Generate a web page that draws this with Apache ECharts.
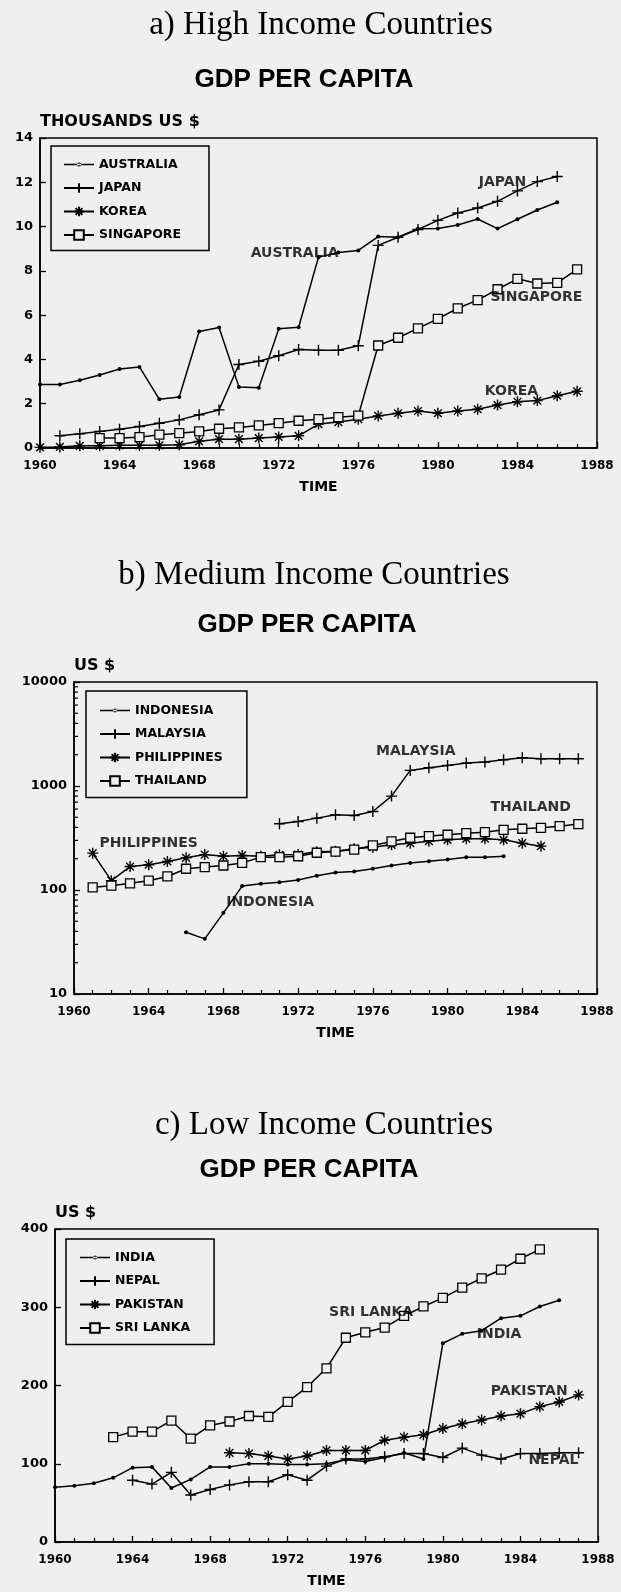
<!DOCTYPE html>
<html><head><meta charset="utf-8">
<script src="https://cdn.jsdelivr.net/npm/echarts@6/dist/echarts.min.js"></script>
<style>html,body{margin:0;padding:0;background:#efefef}#c{width:621px;height:1592px}</style>
</head><body><div id="c"></div><script>
// ---------- DATA ----------
const xTicks = [1960, 1964, 1968, 1972, 1976, 1980, 1984, 1988];
const yTicksA = [0, 2, 4, 6, 8, 10, 12, 14];
const yTicksB = [10, 100, 1000, 10000];
const yTicksC = [0, 100, 200, 300, 400];
const logMinorTicksB = [20,30,40,50,60,70,80,90,200,300,400,500,600,700,800,900,2000,3000,4000,5000,6000,7000,8000,9000];

// a) High income (thousands US $), each series: first year + yearly values
const australiaStart = 1960;
const australia = [2.87,2.87,3.06,3.3,3.57,3.66,2.2,2.3,5.26,5.44,2.76,2.72,5.38,5.45,8.62,8.83,8.92,9.55,9.52,9.9,9.91,10.07,10.34,9.91,10.33,10.75,11.1];
const japanStart = 1961;
const japan = [0.55,0.64,0.75,0.85,0.97,1.12,1.27,1.5,1.72,3.77,3.92,4.17,4.45,4.41,4.41,4.62,9.15,9.52,9.87,10.28,10.61,10.84,11.14,11.61,12.03,12.26];
const koreaStart = 1960;
const korea = [0.03,0.05,0.1,0.1,0.12,0.12,0.12,0.15,0.3,0.4,0.4,0.45,0.5,0.55,1.08,1.17,1.3,1.45,1.57,1.67,1.57,1.67,1.75,1.94,2.09,2.14,2.36,2.56];
const singaporeStart = 1963;
const singapore = [0.45,0.45,0.49,0.6,0.67,0.75,0.87,0.93,1.02,1.12,1.23,1.3,1.39,1.46,4.63,4.98,5.4,5.83,6.31,6.68,7.17,7.64,7.43,7.46,8.07];

// b) Medium income (US $, log scale)
const indonesiaStart = 1966;
const indonesia = [39.3,33.9,60.3,109,115,119,125,137,147,151,160,172,182,189,196,207,207,211];
const malaysiaStart = 1971;
const malaysia = [433,456,491,528,521,569,800,1413,1500,1578,1661,1698,1787,1870,1827,1827,1827];
const philippinesStart = 1961;
const philippines = [226,123,168,175,188,204,219,211,215,211,218,219,233,236,249,258,272,282,295,304,311,311,304,282,264];
const thailandStart = 1961;
const thailand = [106,110,116,123,135,160,166,172,182,207,207,211,228,234,245,268,293,318,330,340,352,360,379,388,396,411,430];

// c) Low income (US $)
const indiaStart = 1960;
const india = [70,72,75,82,95,96,69,80,96,96,100,100,99,99,100,105,103,108,114,106,254,266,270,286,289,301,309];
const nepalStart = 1964;
const nepal = [79,74,89,60,67,73,77,77,86,79,97,106,106,109,113,113,108,120,111,106,113,113,114,114];
const pakistanStart = 1969;
const pakistan = [114,113,110,106,110,117,117,117,130,134,137,145,151,156,161,164,173,179,188];
const sriLankaStart = 1963;
const sriLanka = [134,141,141,155,132,149,154,161,160,179,198,222,261,268,274,289,301,312,325,337,348,362,374];

// in-plot labels: [name, x(year), y(value)]
const labelsA = [['JAPAN',1983.25,12.0],['AUSTRALIA',1972.8,8.77],['SINGAPORE',1984.95,6.8],['KOREA',1983.7,2.57]];
const labelsB = [['MALAYSIA',1978.3,2168],['THAILAND',1984.45,627],['PHILIPPINES',1964.0,278],['INDONESIA',1970.5,76]];
const labelsC = [['SRI LANKA',1976.3,293.6],['INDIA',1982.9,265],['PAKISTAN',1984.45,192],['NEPAL',1985.7,104]];

// ---------- STYLE ----------
const SANS = "'DejaVu Sans', sans-serif";
const BG = '#efefef';
const SYM = {
  dot: {symbol:'circle', size:4, item:{color:'#000'}},
  plus: {symbol:'path://M5,0L5,10M0,5L10,5', size:11, item:{color:'#000', borderColor:'#000', borderWidth:1.4}},
  star: {symbol:'path://M5,0L5,10M0,5L10,5M1.5,1.5L8.5,8.5M1.5,8.5L8.5,1.5', size:11, item:{color:'#000', borderColor:'#000', borderWidth:1.4}},
  square: {symbol:'rect', size:9, item:{color:BG, borderColor:'#000', borderWidth:1.3}}
};
const DOT_LEGEND_ICON = 'path://M0,5.3H30V6.7H0Z M13,6A2,2 0 1,0 17,6A2,2 0 1,0 13,6Z';
const toPairs = (start, vals) => vals.map((v,i) => [start+i, v]);

function lineSeries(name, start, vals, sym, gi) {
  const s = SYM[sym];
  return {
    type:'line', name, xAxisIndex:gi, yAxisIndex:gi,
    data: toPairs(start, vals),
    symbol: s.symbol, symbolSize: s.size, showAllSymbol:true,
    lineStyle:{color:'#000', width:1.5},
    itemStyle: s.item,
    emphasis:{disabled:true}, animation:false, z:3
  };
}
function labelSeries(arr, gi) {
  return {
    type:'scatter', xAxisIndex:gi, yAxisIndex:gi, symbolSize:0, silent:true, z:5,
    itemStyle:{color:'#000'},
    data: arr.map(d => ({name:d[0], value:[d[1], d[2]]})),
    label:{show:true, position:[0,0], align:'center', verticalAlign:'middle', formatter:'{b}', color:'#000',
      textBorderWidth:0,
      fontFamily:SANS, fontWeight:'bold', fontSize:14}
  };
}

const grids = [
  {left:40, top:138, width:557, height:310},
  {left:74, top:682, width:523, height:312},
  {left:55, top:1229, width:543, height:313}
].map(g => Object.assign(g, {show:true, borderColor:'#000', borderWidth:1.5, backgroundColor:'transparent'}));

const plainNum = v => String(v);

function xAxis(gi) {
  return {
    type:'value', gridIndex:gi, min:xTicks[0], max:xTicks[xTicks.length-1], interval:4,
    name:'TIME', nameLocation:'middle', nameGap:32,
    nameTextStyle:{fontFamily:SANS, fontWeight:'bold', fontSize:14, color:'#000'},
    axisLine:{show:true, lineStyle:{color:'#000', width:1.5}},
    axisTick:{show:true, inside:true, length:6, lineStyle:{color:'#000', width:1.3}},
    minorTick:{show:true, splitNumber:4, length:4, lineStyle:{color:'#000', width:1.2}},
    splitLine:{show:false},
    axisLabel:{margin:12, formatter:plainNum, fontFamily:SANS, fontWeight:'bold', fontSize:12, color:'#000'}
  };
}
function yAxisBase(gi, name) {
  return {
    gridIndex:gi, name, nameLocation:'end', nameGap:8,
    nameTextStyle:{align:'left', fontFamily:SANS, fontWeight:'bold', fontSize:16, color:'#000'},
    axisLine:{show:true, lineStyle:{color:'#000', width:1.5}},
    axisTick:{show:true, inside:true, length:6, lineStyle:{color:'#000', width:1.3}},
    splitLine:{show:false},
    axisLabel:{margin:7, formatter:plainNum, fontFamily:SANS, fontWeight:'bold', fontSize:13, color:'#000'}
  };
}
const yAxes = [
  Object.assign(yAxisBase(0,'THOUSANDS US $'), {type:'value', min:yTicksA[0], max:yTicksA[yTicksA.length-1], interval:2}),
  Object.assign(yAxisBase(1,'US $'), {type:'log', logBase:10, min:yTicksB[0], max:yTicksB[yTicksB.length-1]}),
  Object.assign(yAxisBase(2,'US $'), {type:'value', min:yTicksC[0], max:yTicksC[yTicksC.length-1], interval:100})
];

function legend(names, left, top, pad) {
  return {
    data:names.map((n,i) => i === 0 ? {name:n, icon:DOT_LEGEND_ICON} : {name:n}),
    orient:'vertical', left, top, padding:pad,
    itemWidth:30, itemHeight:12, itemGap:10.5,
    borderColor:'#000', borderWidth:1.5, borderRadius:0,
    textStyle:{fontFamily:SANS, fontWeight:'bold', fontSize:12.5, color:'#000'},
    selectedMode:false, inactiveColor:'#000'
  };
}

const series = [
  lineSeries('AUSTRALIA', australiaStart, australia, 'dot', 0),
  lineSeries('JAPAN', japanStart, japan, 'plus', 0),
  lineSeries('KOREA', koreaStart, korea, 'star', 0),
  lineSeries('SINGAPORE', singaporeStart, singapore, 'square', 0),
  lineSeries('INDONESIA', indonesiaStart, indonesia, 'dot', 1),
  lineSeries('MALAYSIA', malaysiaStart, malaysia, 'plus', 1),
  lineSeries('PHILIPPINES', philippinesStart, philippines, 'star', 1),
  lineSeries('THAILAND', thailandStart, thailand, 'square', 1),
  lineSeries('INDIA', indiaStart, india, 'dot', 2),
  lineSeries('NEPAL', nepalStart, nepal, 'plus', 2),
  lineSeries('PAKISTAN', pakistanStart, pakistan, 'star', 2),
  lineSeries('SRI LANKA', sriLankaStart, sriLanka, 'square', 2),
  labelSeries(labelsA, 0), labelSeries(labelsB, 1), labelSeries(labelsC, 2),
  {
    type:'custom', xAxisIndex:1, yAxisIndex:1, silent:true, z:4,
    data: logMinorTicksB.map(v => [xTicks[0], v]),
    renderItem: (params, api) => {
      const p = api.coord([api.value(0), api.value(1)]);
      return {type:'line', shape:{x1:p[0], y1:p[1], x2:p[0]+4, y2:p[1]}, style:{stroke:'#000', lineWidth:1.2}};
    }
  }
];

function headText(text, x, y, font) {
  return {type:'text', x, y, style:{text, font, fill:'#000', align:'center', verticalAlign:'middle'}};
}
const SERIF = "33px 'Liberation Serif', 'Times New Roman', serif";
const GDPF = "bold 26px 'Liberation Sans', Arial, sans-serif";

const chart = echarts.init(document.getElementById('c'), null, {renderer:'canvas'});
chart.setOption({
  backgroundColor: BG,
  animation:false,
  graphic: [
    headText('a) High Income Countries', 321, 25, SERIF),
    headText('GDP PER CAPITA', 304, 80, GDPF),
    headText('b) Medium Income Countries', 314, 575, SERIF),
    headText('GDP PER CAPITA', 307, 625, GDPF),
    headText('c) Low Income Countries', 324, 1125, SERIF),
    headText('GDP PER CAPITA', 309, 1170, GDPF)
  ],
  grid: grids,
  xAxis: [xAxis(0), xAxis(1), xAxis(2)],
  yAxis: yAxes,
  legend: [
    legend(['AUSTRALIA','JAPAN','KOREA','SINGAPORE'], 51, 146, [12,28,9,12]),
    legend(['INDONESIA','MALAYSIA','PHILIPPINES','THAILAND'], 86, 691, [13,24,10,13]),
    legend(['INDIA','NEPAL','PAKISTAN','SRI LANKA'], 66, 1239, [12,24,10,13])
  ],
  series
});
</script></body></html>
